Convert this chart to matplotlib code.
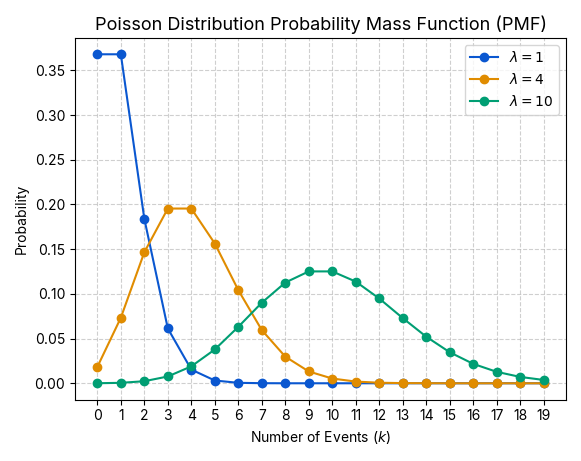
import matplotlib
matplotlib.use('Agg')
import matplotlib.pyplot as plt

k = list(range(20))
pmf_l1 = [0.3679, 0.3679, 0.1839, 0.0613, 0.0153, 0.0031, 0.0005, 0.0001, 0.0, 0.0,
          0.0, 0.0, 0.0, 0.0, 0.0, 0.0, 0.0, 0.0, 0.0, 0.0]
pmf_l4 = [0.0183, 0.0733, 0.1465, 0.1954, 0.1954, 0.1563, 0.1042, 0.0595, 0.0298, 0.0132,
          0.0053, 0.0019, 0.0006, 0.0002, 0.0001, 0.0, 0.0, 0.0, 0.0, 0.0]
pmf_l10 = [0.00005, 0.0005, 0.0023, 0.0076, 0.0189, 0.0378, 0.0631, 0.0901, 0.1126, 0.1251,
           0.1251, 0.1137, 0.0948, 0.0729, 0.0521, 0.0347, 0.0217, 0.0128, 0.0071, 0.0037]

plt.rcParams['font.family'] = ['Inter', 'DejaVu Sans']
fig, ax = plt.subplots(figsize=(5.81, 4.61), dpi=100)
ax.plot(k, pmf_l1, marker='o', color='#0a57d0', label=r'$\lambda = 1$')
ax.plot(k, pmf_l4, marker='o', color='#e08c00', label=r'$\lambda = 4$')
ax.plot(k, pmf_l10, marker='o', color='#009e73', label=r'$\lambda = 10$')
ax.set_xticks(k)
ax.set_title('Poisson Distribution Probability Mass Function (PMF)', fontsize=13)
ax.set_xlabel('Number of Events ($k$)')
ax.set_ylabel('Probability')
ax.grid(True, linestyle='--', alpha=0.6)
ax.legend(loc='upper right')
fig.tight_layout()
fig.savefig('out.png')
